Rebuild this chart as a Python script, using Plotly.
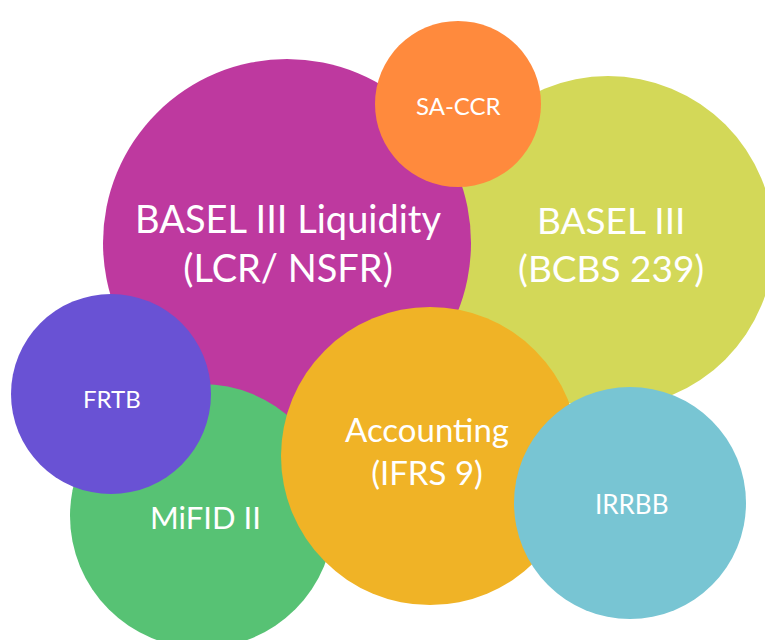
import plotly.graph_objects as go

# Topics (bottom-to-top drawing order)
labels = ["BASEL III<br>(BCBS 239)", "BASEL III Liquidity<br>(LCR/ NSFR)", "SA-CCR",
          "MiFID II", "FRTB", "Accounting<br>(IFRS 9)", "IRRBB"]
center_x = [608, 287, 458, 202, 111, 430, 630]
center_y = [242, 243, 104, 516, 394, 456, 503]
radius = [166, 184, 83, 132, 100, 149, 116]
colors = ["#D3D858", "#BE399F", "#FF8A3D", "#57C274", "#6952D4", "#F0B326", "#78C5D3"]
font_sizes = [37, 38, 24, 31, 24, 33, 26]
label_dx = [3, 1, 0, 3, 1, -3, 1]
label_dy = [1, -1, 1, 1, 4, -6, 1]

fig = go.Figure()

# invisible anchor trace so the axes are active
fig.add_trace(go.Scatter(x=center_x, y=center_y, mode="markers",
                         marker=dict(size=1, opacity=0), hoverinfo="skip",
                         showlegend=False))

shapes = []
annotations = []
for lab, x, y, r, c, fs, dx, dy in zip(labels, center_x, center_y, radius, colors,
                                        font_sizes, label_dx, label_dy):
    shapes.append(dict(type="circle", xref="x", yref="y",
                       x0=x - r, x1=x + r, y0=y - r, y1=y + r,
                       fillcolor=c, line=dict(width=0), layer="below"))
    annotations.append(dict(x=x + dx, y=y + dy, xref="x", yref="y", text=lab,
                            showarrow=False, xanchor="center", yanchor="middle",
                            font=dict(family="Lato", size=fs, color="white")))

# page has an 8px body margin: figure covers page pixels 8..773 x 8..640
fig.update_layout(
    width=765, height=632,
    margin=dict(l=0, r=0, t=0, b=0),
    paper_bgcolor="white", plot_bgcolor="white",
    shapes=shapes, annotations=annotations,
    xaxis=dict(range=[8, 773], visible=False, fixedrange=True),
    yaxis=dict(range=[640, 8], visible=False, fixedrange=True),
    showlegend=False,
)

fig.write_html("out.html")
